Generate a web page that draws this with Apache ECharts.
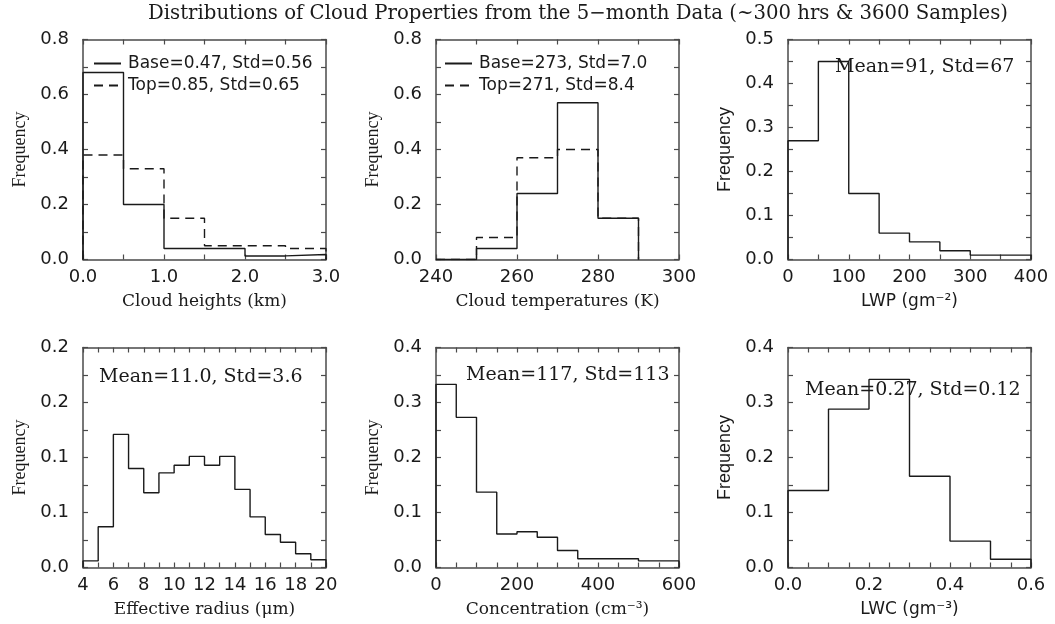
<!DOCTYPE html>
<html>
<head>
<meta charset="utf-8">
<title>Distributions of Cloud Properties</title>
<script src="https://cdn.jsdelivr.net/npm/echarts@6/dist/echarts.min.js"></script>
<style>
  html, body { margin: 0; padding: 0; background: #fff; }
  #chart { width: 1055px; height: 624px; }
</style>
</head>
<body>
<div id="chart"></div>
<script>
// bin edges and frequencies
const heightEdges = [0, 0.5, 1.0, 1.5, 2.0, 2.5, 3.0];
const heightBase = [0.68, 0.20, 0.04, 0.04, 0.013, 0.018];
const heightTop = [0.38, 0.33, 0.15, 0.05, 0.05, 0.04];

const tempEdges = [240, 250, 260, 270, 280, 290];
const tempBase = [0, 0.04, 0.24, 0.57, 0.15];
const tempTop = [0, 0.08, 0.37, 0.40, 0.15];

const lwpEdges = [0, 50, 100, 150, 200, 250, 300, 350, 400];
const lwpFreq = [0.27, 0.45, 0.15, 0.06, 0.04, 0.02, 0.01, 0.01];

const reffEdges = [4, 5, 6, 7, 8, 9, 10, 11, 12, 13, 14, 15, 16, 17, 18, 19, 20];
const reffFreq = [0.006, 0.037, 0.121, 0.090, 0.068, 0.086, 0.093, 0.101,
                  0.093, 0.101, 0.071, 0.046, 0.030, 0.023, 0.0125, 0.007];

const concEdges = [0, 50, 100, 150, 200, 250, 300, 350, 400, 450, 500, 550, 600];
const concFreq = [0.333, 0.273, 0.137, 0.061, 0.065, 0.055, 0.031, 0.016,
                  0.016, 0.016, 0.012, 0.012];

const lwcEdges = [0, 0.1, 0.2, 0.3, 0.4, 0.5, 0.6];
const lwcFreq = [0.14, 0.288, 0.342, 0.166, 0.048, 0.015];

// tick labels
const heightTicks = ['0.0', '1.0', '2.0', '3.0'];
const tempTicks = ['240', '260', '280', '300'];
const lwpTicks = ['0', '100', '200', '300', '400'];
const reffTicks = ['4', '6', '8', '10', '12', '14', '16', '18', '20'];
const concTicks = ['0', '200', '400', '600'];
const lwcTicks = ['0.0', '0.2', '0.4', '0.6'];
const freq08Ticks = ['0.0', '0.2', '0.4', '0.6', '0.8'];
const freq05Ticks = ['0.0', '0.1', '0.2', '0.3', '0.4', '0.5'];
const freq02Ticks = ['0.0', '0.1', '0.1', '0.2', '0.2'];
const freq04Ticks = ['0.0', '0.1', '0.2', '0.3', '0.4'];

const INK = '#1a1a1a';
const FRAME = '#4a4a4a';
const SERIF = 'DejaVu Serif';
const SANS = 'DejaVu Sans';

// panel layout + axis setup
const panels = [
  { left: 83, top: 39.5, serif: true,
    x: { min: 0, max: 3, interval: 1, minor: 2, labels: heightTicks, name: 'Cloud heights (km)' },
    y: { min: 0, max: 0.8, interval: 0.2, minor: 2, labels: freq08Ticks } },
  { left: 436, top: 39.5, serif: true,
    x: { min: 240, max: 300, interval: 20, minor: 2, labels: tempTicks, name: 'Cloud temperatures (K)' },
    y: { min: 0, max: 0.8, interval: 0.2, minor: 2, labels: freq08Ticks } },
  { left: 788, top: 39.5, serif: false,
    x: { min: 0, max: 400, interval: 100, minor: 2, labels: lwpTicks, name: 'LWP (gm\u207B\u00B2)' },
    y: { min: 0, max: 0.5, interval: 0.1, minor: 2, labels: freq05Ticks } },
  { left: 83, top: 347.5, serif: true,
    x: { min: 4, max: 20, interval: 2, minor: 2, labels: reffTicks, name: 'Effective radius (\u03BCm)' },
    y: { min: 0, max: 0.2, interval: 0.05, minor: 2, labels: freq02Ticks } },
  { left: 436, top: 347.5, serif: true,
    x: { min: 0, max: 600, interval: 200, minor: 4, labels: concTicks, name: 'Concentration (cm\u207B\u00B3)' },
    y: { min: 0, max: 0.4, interval: 0.1, minor: 2, labels: freq04Ticks } },
  { left: 788, top: 347.5, serif: false,
    x: { min: 0, max: 0.6, interval: 0.2, minor: 4, labels: lwcTicks, name: 'LWC (gm\u207B\u00B3)' },
    y: { min: 0, max: 0.4, interval: 0.1, minor: 2, labels: freq04Ticks } }
];

// closed histogram outline for a step line
function outline(edges, freq) {
  const pts = [[edges[0], 0]];
  freq.forEach((f, i) => pts.push([edges[i], f]));
  pts.push([edges[edges.length - 1], 0]);
  return pts;
}

function axisBase(a, position, gridIndex, showLabels) {
  return {
    type: 'value', gridIndex, position,
    min: a.min, max: a.max, interval: a.interval,
    splitLine: { show: false },
    axisLine: { show: true, onZero: false, lineStyle: { color: FRAME, width: 1.5 } },
    axisTick: { show: true, inside: true, length: 5, lineStyle: { color: FRAME, width: 1.2 } },
    minorTick: { show: true, splitNumber: a.minor, length: 5, lineStyle: { color: FRAME, width: 1.2 } },
    axisLabel: {
      show: showLabels, margin: 10, color: INK, fontFamily: SANS, fontSize: 18,
      formatter: (v) => a.labels[Math.round((v - a.min) / a.interval)]
    }
  };
}

const grid = [], xAxis = [], yAxis = [];
panels.forEach((p, i) => {
  grid.push({ left: p.left, top: p.top, width: 243, height: 220 });
  const xb = axisBase(p.x, 'bottom', i, true);
  xb.axisLabel.margin = 9;
  xb.name = p.x.name;
  xb.nameLocation = 'middle';
  xb.nameGap = 34;
  xb.nameTextStyle = { color: INK, fontFamily: p.serif ? SERIF : SANS, fontSize: 17 };
  xAxis.push(xb, axisBase(p.x, 'top', i, false));
  const yl = axisBase(p.y, 'left', i, true);
  yl.axisLabel.margin = 14;
  yl.name = 'Frequency';
  yl.nameLocation = 'middle';
  yl.nameRotate = 90;
  yl.nameGap = 54;
  yl.nameTextStyle = { color: INK, fontFamily: p.serif ? 'Liberation Serif' : 'Liberation Sans', fontSize: 18 };
  yAxis.push(yl, axisBase(p.y, 'right', i, false));
});

const solid = { color: INK, width: 1.4, type: 'solid' };
const dashed = { color: INK, width: 1.4, type: [9, 6] };

function hist(name, panel, edges, freq, style) {
  return {
    name, type: 'line', step: 'end', symbol: 'none', silent: true,
    xAxisIndex: panel * 2, yAxisIndex: panel * 2,
    lineStyle: style, itemStyle: { color: INK },
    data: outline(edges, freq)
  };
}

const series = [
  hist('Base=0.47, Std=0.56', 0, heightEdges, heightBase, solid),
  hist('Top=0.85, Std=0.65', 0, heightEdges, heightTop, dashed),
  hist('Base=273, Std=7.0', 1, tempEdges, tempBase, solid),
  hist('Top=271, Std=8.4', 1, tempEdges, tempTop, dashed),
  hist('LWP', 2, lwpEdges, lwpFreq, solid),
  hist('Effective radius', 3, reffEdges, reffFreq, solid),
  hist('Concentration', 4, concEdges, concFreq, solid),
  hist('LWC', 5, lwcEdges, lwcFreq, solid)
];

function legendAt(left, names) {
  return {
    data: names, left, top: 50, orient: 'vertical',
    itemWidth: 27, itemHeight: 14, itemGap: 5,
    selectedMode: false,
    // only the line sample, no marker dot
    itemStyle: { color: 'rgba(0,0,0,0)', borderColor: 'rgba(0,0,0,0)', borderWidth: 0 },
    textStyle: { color: INK, fontFamily: SANS, fontSize: 17, padding: [0, 0, 0, 2] }
  };
}

function note(text, left, top) {
  return { text, left, top, padding: 0,
    textStyle: { color: INK, fontFamily: SERIF, fontSize: 19, fontWeight: 'normal' } };
}

const chart = echarts.init(document.getElementById('chart'), null, { renderer: 'canvas' });
chart.setOption({
  backgroundColor: '#fff',
  animation: false,
  title: [
    { text: 'Distributions of Cloud Properties from the 5\u2212month Data (~300 hrs & 3600 Samples)',
      left: 148, top: 4, padding: 0,
      textStyle: { color: INK, fontFamily: SERIF, fontSize: 19.7, fontWeight: 'normal' } },
    note('Mean=91, Std=67', 835, 58),
    note('Mean=11.0, Std=3.6', 99, 368),
    note('Mean=117, Std=113', 466, 366),
    note('Mean=0.27, Std=0.12', 805, 381)
  ],
  legend: [
    legendAt(88, ['Base=0.47, Std=0.56', 'Top=0.85, Std=0.65']),
    legendAt(439, ['Base=273, Std=7.0', 'Top=271, Std=8.4'])
  ],
  grid, xAxis, yAxis, series
});
</script>
</body>
</html>
